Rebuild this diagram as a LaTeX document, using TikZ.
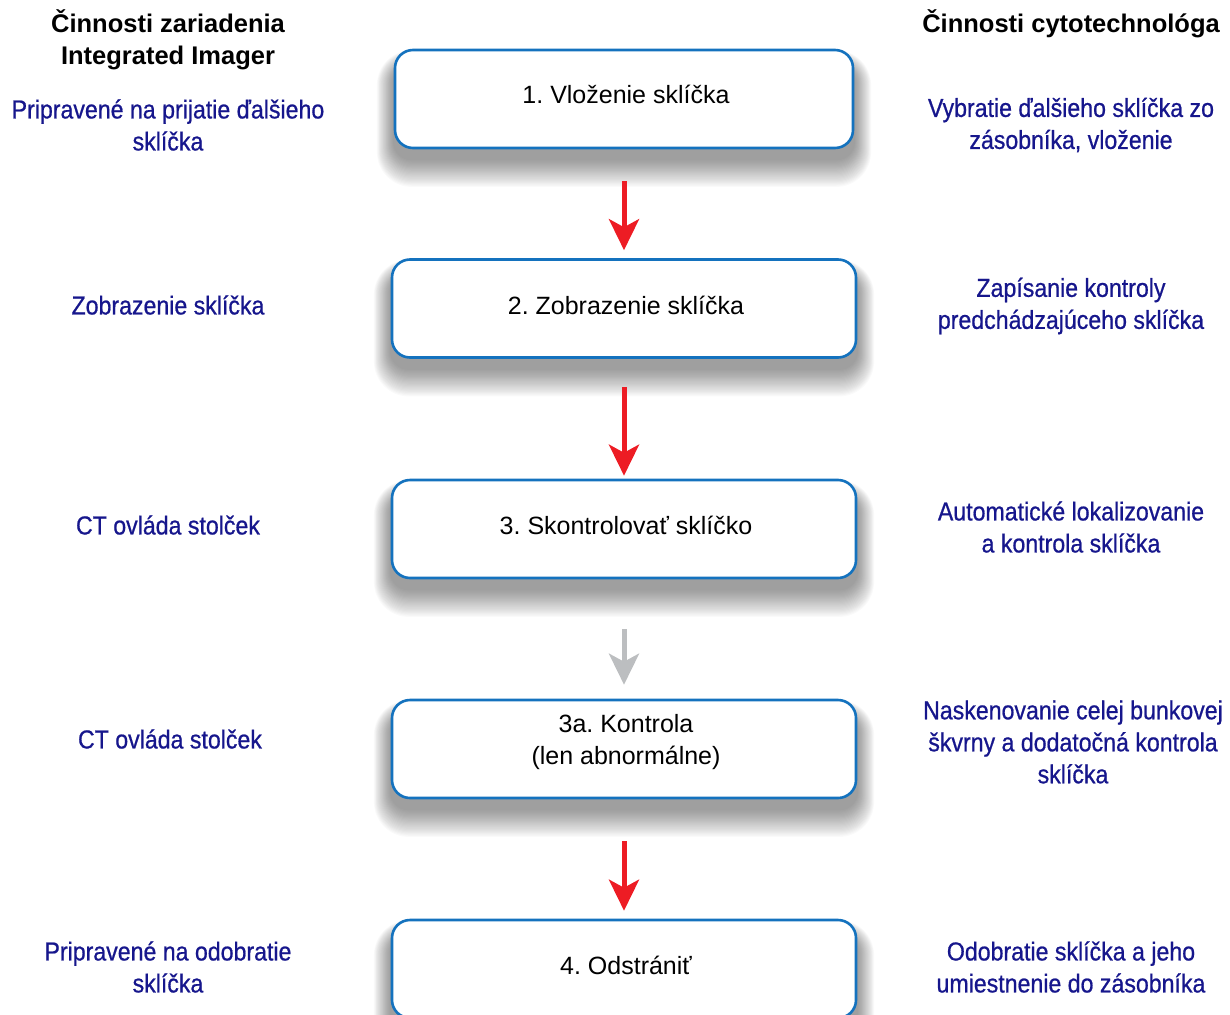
\documentclass[tikz,border=0pt]{standalone}
\usepackage{fontspec}
\setmainfont{Liberation Sans}
\newfontfamily\condfont[FakeStretch=0.89,FakeBold=0.7]{Liberation Sans}
\usetikzlibrary{arrows.meta,calc,backgrounds}
\definecolor{boxblue}{RGB}{20,114,190}
\definecolor{navy}{RGB}{22,22,140}
\definecolor{arrred}{RGB}{237,28,36}
\definecolor{arrgrey}{RGB}{188,190,192}
\tikzset{
  stepbox/.style={draw=boxblue, line width=2.6pt, fill=white, rounded corners=18pt,
    minimum width=464pt, minimum height=98pt},
  boxtext/.style={align=center, font=\fontsize{25}{32}\selectfont},
  header/.style={align=center, font=\fontsize{25.5}{32}\selectfont\bfseries},
  bluetxt/.style={align=center, text=navy, font=\condfont\fontsize{26}{32}\selectfont},
  flow/.style={draw=arrred, line width=5pt, -{Stealth[length=31pt,width=30pt,inset=8pt]}},
  flowgrey/.style={flow, draw=arrgrey},
  softshadow/.style={fill=black, opacity=0.019},
}
\newcommand{\boxshade}[1]{%
  \foreach \k in {1,...,24}{%
    \fill[softshadow, rounded corners={18pt+0.7*\k pt}]
      ($(#1.north west)+(-0.7*\k,16-0.6*\k)$) rectangle ($(#1.south east)+(0.7*\k,10+1.15*\k)$);
  }%
}
\begin{document}
\frenchspacing
\begin{tikzpicture}[x=1pt,y=-1pt]
\useasboundingbox (0,0) rectangle (1230,1014);
% boxes
\node[stepbox, minimum width=458pt] (b1) at (624,99) {};
\node[stepbox] (b2) at (624,308.5) {};
\node[stepbox] (b3) at (624,529) {};
\node[stepbox] (b3a) at (624,749) {};
\node[stepbox] (b4) at (624,969) {};
\begin{scope}[on background layer]
  \boxshade{b1}\boxshade{b2}\boxshade{b3}\boxshade{b3a}\boxshade{b4}
\end{scope}
\node[boxtext] (t1) at (626,94) {1. Vloženie sklíčka};
\node[boxtext] (t2) at (626,305) {2. Zobrazenie sklíčka};
\node[boxtext] (t3) at (626,525) {3. Skontrolovať sklíčko};
\node[boxtext] (t3a) at (626,742) {3a. Kontrola\\(len abnormálne)};
\node[boxtext] (t4) at (626,965) {4. Odstrániť};
% arrows
\draw[flow, shorten <=32pt, shorten >=8pt] (b1.south) -- (b2.north);
\draw[flow, shorten <=28pt, shorten >=3pt] (b2.south) -- (b3.north);
\draw[flowgrey, shorten <=50pt, shorten >=14pt] (b3.south) -- (b3a.north);
\draw[flow, shorten <=42pt, shorten >=8pt] (b3a.south) -- (b4.north);
% headers
\node[header] (hl) at (168,40) {Činnosti zariadenia\\Integrated Imager};
\node[header] (hr) at (1071,24) {Činnosti cytotechnológa};
% left texts
\node[bluetxt] (l1) at (168,125) {Pripravené na prijatie ďalšieho\\sklíčka};
\node[bluetxt] (l2) at (168,305) {Zobrazenie sklíčka};
\node[bluetxt] (l3) at (168,525) {CT ovláda stolček};
\node[bluetxt] (l4) at (170,739) {CT ovláda stolček};
\node[bluetxt] (l5) at (168,967) {Pripravené na odobratie\\sklíčka};
% right texts
\node[bluetxt] (r1) at (1071,125) {Vybratie ďalšieho sklíčka zo\\zásobníka, vloženie};
\node[bluetxt] (r2) at (1071,306) {Zapísanie kontroly\\predchádzajúceho sklíčka};
\node[bluetxt] (r3) at (1071,527) {Automatické lokalizovanie\\a kontrola sklíčka};
\node[bluetxt] (r4) at (1073,742) {Naskenovanie celej bunkovej\\škvrny a dodatočná kontrola\\sklíčka};
\node[bluetxt] (r5) at (1071,967) {Odobratie sklíčka a jeho\\umiestnenie do zásobníka};
\end{tikzpicture}
\end{document}
